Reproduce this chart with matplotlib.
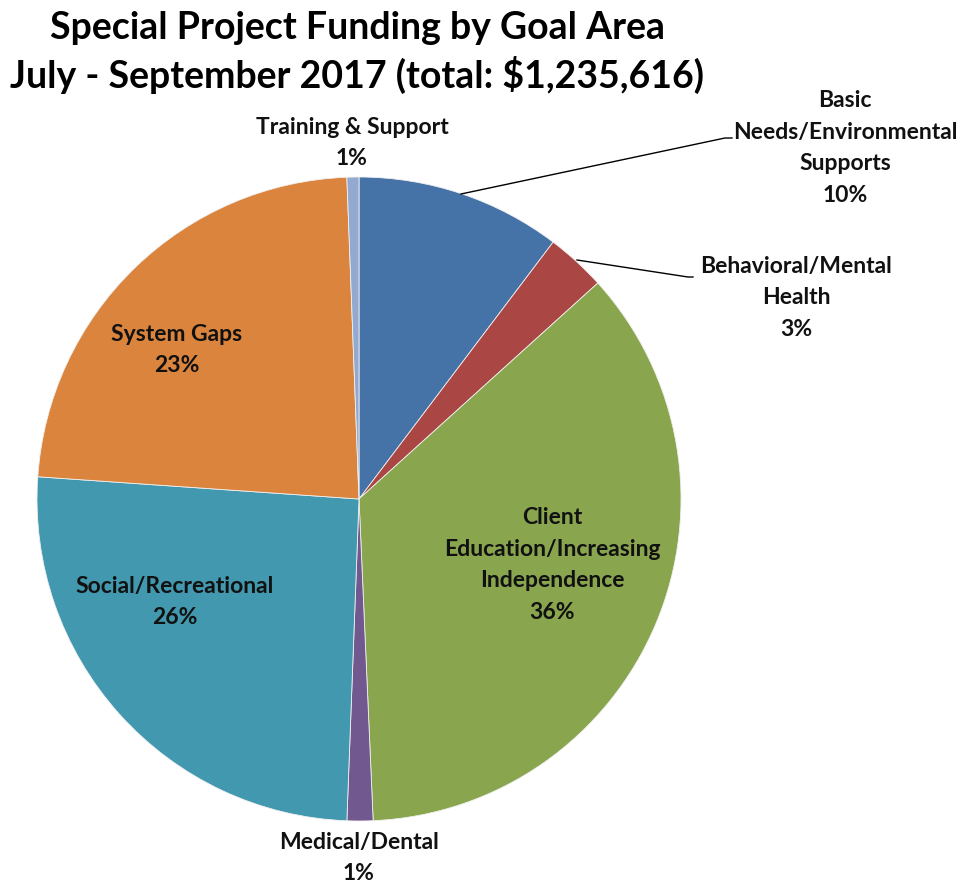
import matplotlib
matplotlib.use('Agg')
import matplotlib.pyplot as plt

# slices clockwise from 12 o'clock (percent of total funding)
categories = ["Basic\nNeeds/Environmental\nSupports", "Behavioral/Mental\nHealth",
              "Client\nEducation/Increasing\nIndependence", "Medical/Dental",
              "Social/Recreational", "System Gaps", "Training & Support"]
shares = [10.3, 3.0, 36.0, 1.3, 25.5, 23.3, 0.6]
colors = ["#4572A7", "#AA4643", "#89A54E", "#71588F", "#4198AF", "#DB843D", "#93A9CF"]

# label anchor points (pixel coords, y from top)
label_pos = [(845, 148), (796, 298), (552, 565), (359, 858), (175, 602), (177, 350), (352, 143)]

W, H = 970, 884
fig = plt.figure(figsize=(W / 100, H / 100), dpi=100)
ax = fig.add_axes([0, 0, 1, 1])

cx, cy, r = 359, H - 499, 322
ax.pie(shares, colors=colors, startangle=90, counterclock=False,
       center=(cx, cy), radius=r, frame=True,
       wedgeprops=dict(edgecolor='#f0f0f0', linewidth=0.6))
ax.set_xlim(0, W)
ax.set_ylim(0, H)
ax.set_aspect('equal')
ax.axis('off')

font = 'Lato'
for name, val, (x, y) in zip(categories, shares, label_pos):
    ax.text(x, H - y, name + "\n" + "%.0f%%" % val, ha='center', va='center',
            fontsize=16.5, fontweight='bold', family=font, linespacing=1.63, color='#111111')

# leader lines for the two small slices on the right
ax.plot([461, 725, 732], [H - 194, H - 138, H - 138], color='black', lw=1)
ax.plot([577, 688, 693], [H - 260, H - 277, H - 277], color='black', lw=1)

fig.text(357 / W, 1 - 28 / H, "Special Project Funding by Goal Area", ha='center', va='center',
         fontsize=27, fontweight='bold', family=font)
fig.text(357 / W, 1 - 75 / H, "July - September 2017 (total: $1,235,616)", ha='center', va='center',
         fontsize=27, fontweight='bold', family=font)

fig.savefig('out.png', dpi=100)
